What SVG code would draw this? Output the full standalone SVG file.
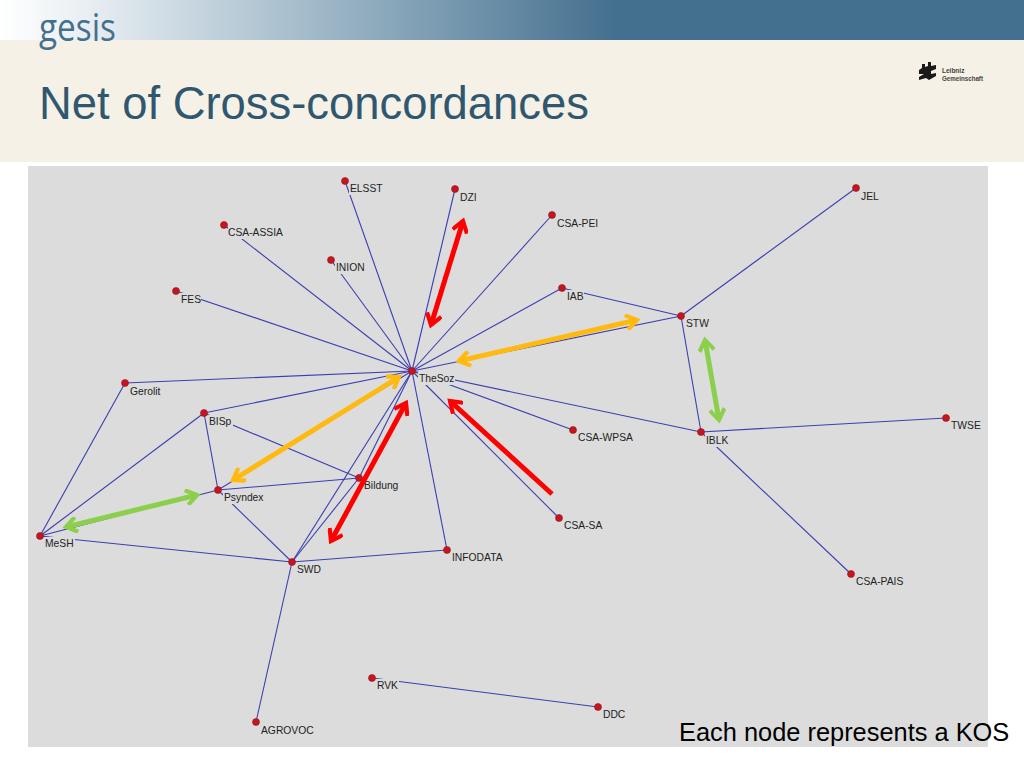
<svg xmlns="http://www.w3.org/2000/svg" width="1024" height="768" viewBox="0 0 1024 768">
<defs>
<linearGradient id="band" x1="0" x2="1" y1="0" y2="0"><stop offset="0" stop-color="#fff"/><stop offset=".1" stop-color="#e4ebf0"/><stop offset=".3" stop-color="#a3bbca"/><stop offset=".6" stop-color="#44708f"/><stop offset="1" stop-color="#44708f"/></linearGradient>
<marker id="hr" viewBox="0 0 12 10" refX="9" refY="5" markerWidth="4" markerHeight="3.330" orient="auto-start-reverse"><path d="M2.500 .5L9 5L2.500 9.500" fill="none" stroke="#ff0000" stroke-width="2.500"/></marker>
<marker id="hy" viewBox="0 0 12 10" refX="9" refY="5" markerWidth="4" markerHeight="3.330" orient="auto-start-reverse"><path d="M2.500 .5L9 5L2.500 9.500" fill="none" stroke="#ffb90f" stroke-width="2.500"/></marker>
<marker id="hg" viewBox="0 0 12 10" refX="9" refY="5" markerWidth="4" markerHeight="3.330" orient="auto-start-reverse"><path d="M2.500 .5L9 5L2.500 9.500" fill="none" stroke="#8ccf4d" stroke-width="2.500"/></marker>
</defs>
<style>
#connectors line{stroke:#3a3fb0;stroke-width:1.100}
.n circle{fill:#c8141e;stroke:#8a1a20;stroke-width:.6}
.n rect{fill:#dcdcdc}
.n text{font-family:"Liberation Sans",Arial,sans-serif;font-size:10.300px;fill:#222}
.a{fill:none;stroke-width:5}
.r{stroke:#ff0000;marker-end:url(#hr)}
.y{stroke:#ffb90f;marker-end:url(#hy)}
.g{stroke:#8ccf4d;marker-end:url(#hg)}
</style>
<rect width="1024" height="768" fill="#fff"/>
<rect width="1024" height="40" fill="url(#band)"/>
<rect y="40" width="1024" height="122" fill="#f6f1e7"/>
<rect x="28" y="166" width="960" height="581" fill="#dcdcdc"/>
<text x="39" y="41" font-family="Open Sans,Liberation Sans,sans-serif" font-size="38" fill="#44708f" textLength="77" lengthAdjust="spacingAndGlyphs">gesis</text>
<text x="39" y="119" font-family="Liberation Sans,Arial,sans-serif" font-size="45.400" fill="#2f5870">Net of Cross-concordances</text>
<g id="leibniz-logo">
<path d="M919 70l3-2v-4h3v3l3-1v-4h3v4l5-1v4l-5 2v3l5-1v3l-7 4-3-2-7 2v-3l5-3h-5z" fill="#1a1a1a"/>
<text x="942" y="73" font-family="Liberation Sans,Arial,sans-serif" font-size="6.500" font-weight="bold" fill="#444">Leibniz</text>
<text x="942" y="80.500" font-family="Liberation Sans,Arial,sans-serif" font-size="6.500" font-weight="bold" fill="#444" textLength="41" lengthAdjust="spacingAndGlyphs">Gemeinschaft</text>
</g>
<g id="connectors">
<line x1="412" y1="371" x2="345" y2="181"/>
<line x1="412" y1="371" x2="455" y2="189"/>
<line x1="412" y1="371" x2="552" y2="215"/>
<line x1="412" y1="371" x2="562" y2="288"/>
<line x1="412" y1="371" x2="681" y2="316"/>
<line x1="412" y1="371" x2="701" y2="432"/>
<line x1="412" y1="371" x2="573" y2="430"/>
<line x1="412" y1="371" x2="559" y2="518"/>
<line x1="412" y1="371" x2="447" y2="550"/>
<line x1="412" y1="371" x2="292" y2="562"/>
<line x1="412" y1="371" x2="359" y2="478"/>
<line x1="412" y1="371" x2="218" y2="490"/>
<line x1="412" y1="371" x2="204" y2="413"/>
<line x1="412" y1="371" x2="125" y2="383"/>
<line x1="412" y1="371" x2="176" y2="291"/>
<line x1="412" y1="371" x2="224" y2="225"/>
<line x1="412" y1="371" x2="331" y2="260"/>
<line x1="562" y1="288" x2="681" y2="316"/>
<line x1="681" y1="316" x2="856" y2="188"/>
<line x1="681" y1="316" x2="701" y2="432"/>
<line x1="701" y1="432" x2="946" y2="418"/>
<line x1="701" y1="432" x2="851" y2="574"/>
<line x1="204" y1="413" x2="359" y2="478"/>
<line x1="204" y1="413" x2="218" y2="490"/>
<line x1="204" y1="413" x2="40" y2="536"/>
<line x1="125" y1="383" x2="40" y2="536"/>
<line x1="218" y1="490" x2="359" y2="478"/>
<line x1="218" y1="490" x2="40" y2="536"/>
<line x1="218" y1="490" x2="292" y2="562"/>
<line x1="40" y1="536" x2="292" y2="562"/>
<line x1="292" y1="562" x2="359" y2="478"/>
<line x1="292" y1="562" x2="447" y2="550"/>
<line x1="292" y1="562" x2="256" y2="722"/>
<line x1="372" y1="678" x2="598" y2="707"/>
</g>
<g id="nodes">
<g class="n" id="ELSST"><rect x="349" y="182" width="35" height="13"/><circle cx="345" cy="181" r="3.500"/><text x="350" y="192">ELSST</text></g>
<g class="n" id="DZI"><rect x="460" y="191" width="19" height="13"/><circle cx="455" cy="189" r="3.500"/><text x="460" y="201">DZI</text></g>
<g class="n" id="CSA-PEI"><rect x="557" y="217" width="41" height="13"/><circle cx="552" cy="215" r="3.500"/><text x="557" y="227">CSA-PEI</text></g>
<g class="n" id="JEL"><rect x="860" y="190" width="20" height="13"/><circle cx="856" cy="188" r="3.500"/><text x="861" y="200">JEL</text></g>
<g class="n" id="CSA-ASSIA"><rect x="228" y="226" width="55" height="13"/><circle cx="224" cy="225" r="3.500"/><text x="228" y="236">CSA-ASSIA</text></g>
<g class="n" id="INION"><rect x="335" y="261" width="31" height="13"/><circle cx="331" cy="260" r="3.500"/><text x="336" y="271">INION</text></g>
<g class="n" id="IAB"><rect x="566" y="290" width="18" height="13"/><circle cx="562" cy="288" r="3.500"/><text x="567" y="300">IAB</text></g>
<g class="n" id="FES"><rect x="180" y="293" width="21" height="13"/><circle cx="176" cy="291" r="3.500"/><text x="181" y="303">FES</text></g>
<g class="n" id="STW"><rect x="685" y="317" width="26" height="13"/><circle cx="681" cy="316" r="3.500"/><text x="686" y="327">STW</text></g>
<g class="n" id="TheSoz"><rect x="418" y="372" width="37" height="13"/><circle cx="412" cy="371" r="3.500"/><text x="419" y="382">TheSoz</text></g>
<g class="n" id="Gerolit"><rect x="129" y="385" width="32" height="13"/><circle cx="125" cy="383" r="3.500"/><text x="130" y="395">Gerolit</text></g>
<g class="n" id="BISp"><rect x="208" y="415" width="25" height="13"/><circle cx="204" cy="413" r="3.500"/><text x="209" y="425">BISp</text></g>
<g class="n" id="TWSE"><rect x="950" y="419" width="33" height="13"/><circle cx="946" cy="418" r="3.500"/><text x="951" y="429">TWSE</text></g>
<g class="n" id="CSA-WPSA"><rect x="577" y="431" width="57" height="13"/><circle cx="573" cy="430" r="3.500"/><text x="578" y="441">CSA-WPSA</text></g>
<g class="n" id="IBLK"><rect x="705" y="434" width="25" height="13"/><circle cx="701" cy="432" r="3.500"/><text x="706" y="444">IBLK</text></g>
<g class="n" id="Bildung"><rect x="363" y="479" width="36" height="13"/><circle cx="359" cy="478" r="3.500"/><text x="364" y="489">Bildung</text></g>
<g class="n" id="Psyndex"><rect x="223" y="491" width="41" height="13"/><circle cx="218" cy="490" r="3.500"/><text x="224" y="501">Psyndex</text></g>
<g class="n" id="MeSH"><rect x="44" y="537" width="31" height="13"/><circle cx="40" cy="536" r="3.500"/><text x="45" y="547">MeSH</text></g>
<g class="n" id="CSA-SA"><rect x="563" y="519" width="39" height="13"/><circle cx="559" cy="518" r="3.500"/><text x="564" y="529">CSA-SA</text></g>
<g class="n" id="SWD"><rect x="296" y="563" width="27" height="13"/><circle cx="292" cy="562" r="3.500"/><text x="297" y="573">SWD</text></g>
<g class="n" id="INFODATA"><rect x="451" y="551" width="56" height="13"/><circle cx="447" cy="550" r="3.500"/><text x="452" y="561">INFODATA</text></g>
<g class="n" id="CSA-PAIS"><rect x="855" y="575" width="49" height="13"/><circle cx="851" cy="574" r="3.500"/><text x="856" y="585">CSA-PAIS</text></g>
<g class="n" id="RVK"><rect x="376" y="679" width="23" height="13"/><circle cx="372" cy="678" r="3.500"/><text x="377" y="689">RVK</text></g>
<g class="n" id="DDC"><rect x="602" y="708" width="25" height="13"/><circle cx="598" cy="707" r="3.500"/><text x="603" y="718">DDC</text></g>
<g class="n" id="AGROVOC"><rect x="260" y="723" width="54" height="13"/><circle cx="256" cy="722" r="3.500"/><text x="261" y="734">AGROVOC</text></g>
</g>
<g id="highlight-arrows">
<path class="a r" marker-start="url(#hr)" d="M463 221L431 325"/>
<path class="a y" marker-start="url(#hy)" d="M459 361L637 320"/>
<path class="a g" marker-start="url(#hg)" d="M705 340L719 420"/>
<path class="a y" marker-start="url(#hy)" d="M399 377L233 480"/>
<path class="a r" marker-start="url(#hr)" d="M406 403L331 541"/>
<path class="a r" d="M552 494L450 401"/>
<path class="a g" marker-start="url(#hg)" d="M66 527L197 495"/>
</g>
<text x="679" y="741" font-family="Liberation Sans,Arial,sans-serif" font-size="25.400" fill="#000">Each node represents a KOS</text>
</svg>
